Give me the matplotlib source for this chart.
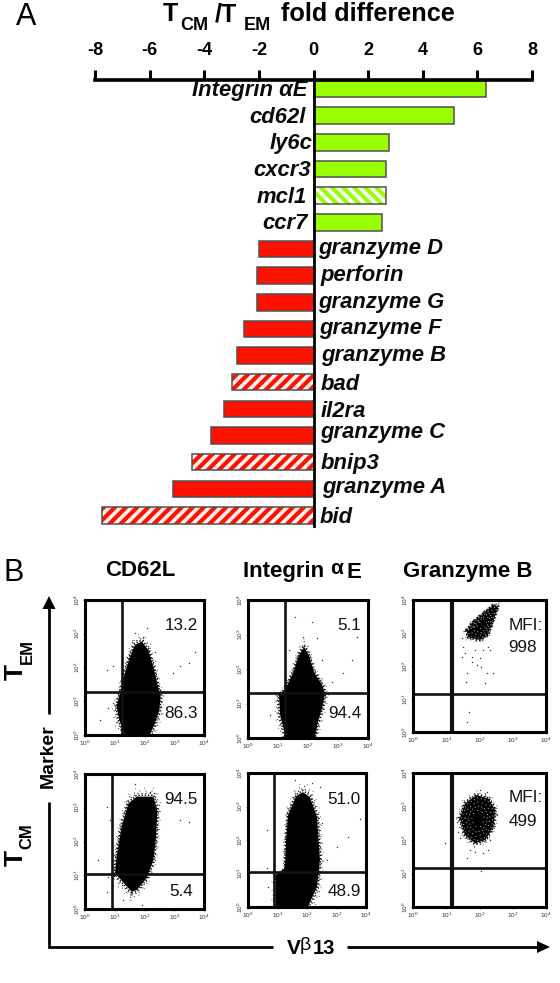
import numpy as np
import matplotlib
matplotlib.use('Agg')
import matplotlib.pyplot as plt

W, H = 560, 983
plt.rcParams['font.family'] = ['Liberation Sans', 'DejaVu Sans']
plt.rcParams['hatch.linewidth'] = 3.0
plt.rcParams['mathtext.fontset'] = 'custom'
plt.rcParams['mathtext.rm'] = 'Liberation Sans'

# ── Panel A data ──────────────────────────────
genes = ['Integrin αE', 'cd62l', 'ly6c', 'cxcr3', 'mcl1', 'ccr7', 'granzyme D',
         'perforin', 'granzyme G', 'granzyme F', 'granzyme B', 'bad', 'il2ra',
         'granzyme C', 'bnip3', 'granzyme A', 'bid']
fold_diff = [6.33, 5.13, 2.78, 2.67, 2.67, 2.49, -1.98, -2.07, -2.07, -2.56,
             -2.79, -2.99, -3.28, -3.77, -4.45, -5.14, -7.73]
striped = ['mcl1', 'bad', 'bnip3', 'bid']
x_ticks = [-8, -6, -4, -2, 0, 2, 4, 6, 8]

# label nudges in pixels, labels in the figure do not sit quite regular
label_dx = [-6, -8, -1, -3, -7, -6, 5, 7, 5, 6, 8, 7, 7, 7, 7, 9, 6]
label_dy = [7, 7.5, 7, 7, 7.5, 7, 5.5, 5.5, 5.7, 5, 5.4, 7.7, 8, 2.4, 6.8, 4, 7.4]

# ── Panel B data (log10 decades) ──────────────
tem_cd62l = [(1.34, 0), (1.15, .44), (1.06, .84), (1.20, 1.33), (1.34, 1.83), (1.51, 2.32),
             (1.68, 2.67), (1.90, 2.77), (2.13, 2.52), (2.30, 2.02), (2.43, 1.53),
             (2.54, 1.14), (2.50, .74), (2.35, .35), (2.18, 0)]
tem_cd62l_dots = [(1.68, 3.01), (2.07, 3.16), (1.96, 2.91), (1.57, 2.77), (.95, 2.03), (.73, 1.93),
                  (2.97, 1.83), (3.20, 2.03), (3.48, 2.12), (3.70, 2.47), (.95, .94), (.78, .79),
                  (.50, .44), (2.35, 2.47)]
tem_itg = [(1.27, 0), (1.07, .67), (1.03, 1.25), (1.23, 1.39), (1.5, 1.88), (1.7, 2.4), (1.87, 2.64),
           (2.03, 2.4), (2.2, 1.91), (2.47, 1.54), (2.57, 1.3), (2.5, .96), (2.33, .46), (2.23, 0)]
tem_itg_dots = [(1.57, 3.52), (2.12, 3.37), (1.84, 2.94), (2.29, 2.89), (2.46, 2.26), (2.79, 1.63),
                (3.18, 1.87), (3.46, 2.26), (3.62, 2.92), (1.35, 2.55), (.73, .67)]
tem_gzb = [(1.61, 3.09), (1.66, 2.87), (2.02, 2.79), (2.26, 2.95), (2.41, 3.35), (2.56, 3.80),
           (2.41, 3.85), (2.11, 3.60), (1.81, 3.35)]
tem_gzb_dots = [(1.46, 2.84), (1.51, 2.59), (1.46, 2.28), (1.76, 2.13), (1.87, 2.48), (2.11, 2.48),
                (2.27, 2.58), (1.92, 2.03), (1.61, 1.78), (1.59, 1.53), (2.16, 1.48), (2.22, 1.78),
                (2.06, 1.98), (2.41, 1.78), (1.67, .62), (1.63, .31), (1.76, 2.28), (2.01, 2.23),
                (1.56, 2.38), (2.32, 2.48)]
tcm_cd62l = [(1.57, .51), (1.01, 1.06), (1.06, 1.55), (1.23, 2.44), (1.46, 3.13), (1.74, 3.33),
             (2.30, 3.33), (2.43, 2.93), (2.39, 2.14), (2.30, 1.45), (2.07, .91), (1.74, .56)]
tcm_cd62l_dots = [(1.68, 3.70), (2.19, 3.48), (.73, 3.03), (.84, 2.64), (.45, 1.46), (.73, .51),
                  (.95, .71), (1.28, .27), (1.90, .12), (3.19, 2.64), (3.48, 2.59), (.78, .96)]
tcm_itg = [(.95, 0), (.95, .96), (1.25, 1.16), (1.29, 2.0), (1.36, 2.75), (1.63, 3.31), (1.86, 3.43),
           (2.10, 3.28), (2.34, 2.69), (2.44, 1.40), (2.34, .60), (2.03, 0)]
tcm_itg_dots = [(1.59, 3.79), (2.16, 3.69), (2.44, 3.59), (2.50, 2.50), (3.80, 2.62), (3.40, 2.10),
                (3.01, 1.80), (2.67, 1.40), (.64, 2.30), (.68, .60), (.64, 1.15)]
tcm_gzb = [(1.41, 2.65), (1.56, 3.09), (1.91, 3.34), (2.27, 3.24), (2.47, 2.90), (2.42, 2.40),
           (2.17, 2.00), (1.87, 1.90), (1.56, 2.15)]
tcm_gzb_dots = [(2.02, 3.49), (2.22, 3.44), (2.52, 2.75), (1.87, 1.65), (1.71, 1.70), (2.27, 1.70),
                (1.61, 1.45), (2.06, 1.06), (.96, 1.90), (1.11, 2.30), (1.31, 2.55), (1.36, 2.25),
                (1.41, 2.05), (2.32, 2.00), (2.12, 1.60)]

fig = plt.figure(figsize=(W / 100, H / 100), dpi=100, facecolor='white')


def add_px_axes(left, top, right, bottom):
    return fig.add_axes([left / W, 1 - bottom / H, (right - left) / W, (bottom - top) / H])


# ── Overlay in pixels, for lettering and the long arrows ──
ov = fig.add_axes([0, 0, 1, 1], zorder=5)
ov.set_xlim(0, W)
ov.set_ylim(H, 0)
ov.axis('off')
ov.patch.set_alpha(0)


def bold(x, y, s, size, **kw):
    kw.setdefault('ha', 'left')
    kw.setdefault('va', 'center')
    ov.text(x, y, s, fontsize=size, fontweight='bold', **kw)


# ════════════════════════════════════════════
# A. BAR CHART
# ════════════════════════════════════════════
ax = add_px_axes(95, 80, 532, 528)
ypos = np.arange(len(genes))
ax.set_xlim(-8, 8)
ax.set_ylim(16.47, -0.34)
for i, (g, v) in enumerate(zip(genes, fold_diff)):
    col = '#99ff00' if v > 0 else '#ff1100'
    if g in striped:
        ax.barh(ypos[i], v, height=0.62, color='white' if v > 0 else '#fff2f0', edgecolor=col,
                linewidth=0, hatch='\\\\\\' if v > 0 else '///')
    else:
        ax.barh(ypos[i], v, height=0.62, color=col, linewidth=0)
    ax.barh(ypos[i], v, height=0.62, fill=False, edgecolor='#505050', linewidth=1.1)
    ax.annotate(g, xy=(0, ypos[i]), xytext=(label_dx[i], -label_dy[i]), textcoords='offset pixels',
                ha='right' if v > 0 else 'left', va='baseline', fontsize=15.8,
                fontweight='bold', fontstyle='italic', color='#0a0a0a')

for s in ['right', 'bottom', 'left']:
    ax.spines[s].set_visible(False)
ax.spines['top'].set_linewidth(2.6)
ax.axvline(0, color='black', lw=2.0, zorder=4)
ax.xaxis.tick_top()
ax.set_xticks(x_ticks)
ax.set_xticklabels([str(t) for t in x_ticks], fontsize=13, fontweight='bold')
ax.tick_params(axis='x', length=7.5, width=2.2, pad=7.5)
ax.set_yticks([])
ax.patch.set_alpha(0)

# title pieces, the subscripts sit well apart in the original
bold(163, 14, 'T', 18)
bold(180, 26, 'CM', 13)
bold(215, 14, '/T', 18)
bold(244, 26, 'EM', 13)
bold(281, 14, 'fold difference', 18.2)
ov.text(16, 17, 'A', fontsize=22, ha='left', va='center')
ov.text(3, 573, 'B', fontsize=22, ha='left', va='center')


# ════════════════════════════════════════════
# B. FLOW PLOTS
# ════════════════════════════════════════════
def ring(a, xs, ys, k, color, lw, dash):
    # dotted copy of a blob outline, scaled about its middle
    cx, cy = np.mean(xs), np.mean(ys)
    rx = [cx + (x - cx) * k for x in list(xs) + [xs[0]]]
    ry = [cy + (y - cy) * k for y in list(ys) + [ys[0]]]
    a.plot(rx, ry, color=color, lw=lw, ls=(0, dash), zorder=2)


def draw_flow(box, outline, dots, gate_x, gate_y, gate_w=1.9, speckled=False):
    a = add_px_axes(*box)
    a.set_xlim(0, 4)
    a.set_ylim(0, 4)
    xs, ys = zip(*outline)
    a.fill(xs, ys, color='black', lw=0, zorder=2)
    # fuzzy event edge, dots thin out going outward
    ring(a, xs, ys, 1.03, 'black', 1.0, (1, 1.3))
    ring(a, xs, ys, 1.07, 'black', 0.8, (1, 2.7))
    ring(a, xs, ys, 1.12, '#222222', 0.7, (1, 5.3))
    ring(a, xs, ys, 1.18, '#333333', 0.6, (1, 9.7))
    if speckled:
        for k, dash in [(0.9, (1, 3.7)), (0.72, (1, 4.3)), (0.55, (1, 3.1)), (0.35, (1, 5.1))]:
            ring(a, xs, ys, k, 'white', 0.6, dash)
    dx, dy = zip(*dots)
    a.plot(dx, dy, ls='none', marker='s', ms=0.9, mew=0, color='#333333', zorder=2)
    a.axvline(gate_x, color='#111111', lw=gate_w, zorder=3)
    a.axhline(gate_y, color='#111111', lw=1.9, zorder=3)
    for s in a.spines.values():
        s.set_linewidth(2.2)
        s.set_zorder(4)
    labs = ['$10^{%d}$' % k for k in range(5)]
    a.set_xticks(range(5))
    a.set_yticks(range(5))
    a.set_xticklabels(labs, fontsize=4.6, color='#333333')
    a.set_yticklabels(labs, fontsize=4.6, color='#333333', rotation=90, va='center')
    minor = [k + m for k in range(4) for m in (.3, .48, .6, .7, .78, .85, .9, .95)]
    a.set_xticks(minor, minor=True)
    a.set_yticks(minor, minor=True)
    a.tick_params(which='major', length=1.6, width=0.5, pad=0.8, color='#444444')
    a.tick_params(which='minor', length=0.8, width=0.3, color='#666666')
    return a


draw_flow((85, 600, 204, 735), tem_cd62l, tem_cd62l_dots, 1.24, 1.27)
draw_flow((248, 600, 368, 738), tem_itg, tem_itg_dots, 1.23, 1.30)
draw_flow((413, 600, 546, 732), tem_gzb, tem_gzb_dots, 1.18, 1.15, gate_w=3, speckled=True)
draw_flow((85, 774, 204, 909), tcm_cd62l, tcm_cd62l_dots, 0.91, 1.04)
draw_flow((248, 773, 366, 907), tcm_itg, tcm_itg_dots, 0.88, 1.04)
draw_flow((413, 773, 546, 907), tcm_gzb, tcm_gzb_dots, 1.18, 1.16, gate_w=3, speckled=True)

# gate percentages
for x, y, s in [(181, 626, '13.2'), (181, 713, '86.3'), (349, 626, '5.1'), (345, 713, '94.4'),
                (526, 625, 'MFI:'), (523, 648, '998'), (181, 799, '94.5'), (181, 892, '5.4'),
                (344, 799, '51.0'), (344, 891, '48.9'), (526, 798, 'MFI:'), (523, 822, '499')]:
    ov.text(x, y, s, fontsize=12.3, ha='center', va='center', color='#111111')

bold(140, 571, 'CD62L', 16, ha='center')
bold(243, 571, 'Integrin ', 16)
ov.text(330, 568, 'α', fontsize=15, ha='left', va='center', fontweight='bold')
bold(346, 572, 'E', 16)
bold(468, 571, 'Granzyme B', 16, ha='center')

bold(16, 672, 'T', 19, rotation=90, ha='center')
bold(27, 652, 'EM', 12, rotation=90, ha='center')
bold(16, 858, 'T', 19, rotation=90, ha='center')
bold(27, 836, 'CM', 12, rotation=90, ha='center')
bold(48, 756, 'Marker', 14, rotation=90, ha='center')

# axis arrows
ov.plot([49, 49], [714, 604], color='black', lw=2.0, solid_capstyle='butt')
ov.fill([42.5, 55.5, 49], [609, 609, 596], color='black', lw=0)
ov.plot([49, 49, 273], [802, 947, 947], color='black', lw=2.0, solid_joinstyle='miter',
        solid_capstyle='butt')
ov.plot([347, 540], [947, 947], color='black', lw=2.0, solid_capstyle='butt')
ov.fill([537, 537, 550], [941, 953, 947], color='black', lw=0)
bold(287, 948, 'V', 15)
ov.text(300, 945, 'β', fontsize=14, ha='left', va='center')
bold(313, 948, '13', 14.5)

plt.savefig('out.png', dpi=100)
